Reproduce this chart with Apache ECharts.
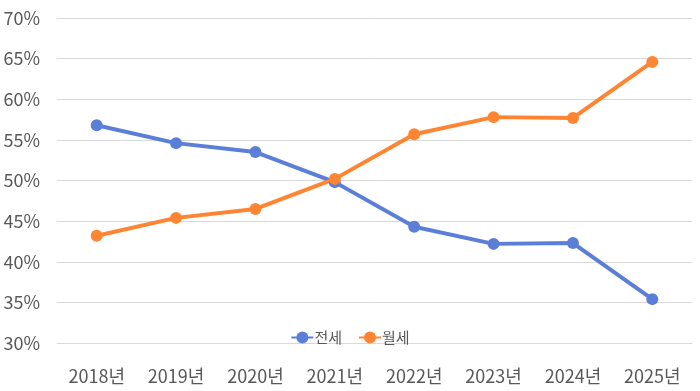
<!DOCTYPE html>
<html><head><meta charset="utf-8">
<script src="https://cdn.jsdelivr.net/npm/echarts@6/dist/echarts.min.js"></script>
<style>html,body{margin:0;padding:0;background:#fff}#c{width:700px;height:391px}</style>
</head><body><div id="c"></div>
<script>
const categories = ['2018년','2019년','2020년','2021년','2022년','2023년','2024년','2025년'];
const jeonse = [56.8, 54.6, 53.5, 49.8, 44.3, 42.2, 42.3, 35.4];
const wolse = [43.2, 45.4, 46.5, 50.2, 55.7, 57.8, 57.7, 64.6];
const seriesNames = ['전세', '월세'];
const font = '"Noto Sans CJK KR", "Noto Sans", sans-serif';
const chart = echarts.init(document.getElementById('c'));
chart.setOption({
  animation: false,
  grid: {left: 57, right: 8, top: 18, bottom: 48},
  legend: {
    data: seriesNames, top: 325, left: 'center', itemGap: 16,
    itemWidth: 22, itemHeight: 15,
    textStyle: {fontFamily: font, fontSize: 15, color: '#595959', padding: [0, 0, 0, -4]}
  },
  xAxis: {
    type: 'category', data: categories, boundaryGap: true,
    axisLine: {show: true, lineStyle: {color: '#d9d9d9'}},
    axisTick: {show: false},
    axisLabel: {fontFamily: font, fontSize: 18, color: '#595959', margin: 24}
  },
  yAxis: {
    type: 'value', min: 30, max: 70, interval: 5,
    axisLine: {show: false}, axisTick: {show: false},
    splitLine: {lineStyle: {color: '#d9d9d9'}},
    axisLabel: {fontFamily: font, fontSize: 18, color: '#595959', margin: 17, formatter: '{value}%'}
  },
  series: [
    {name: seriesNames[0], type: 'line', data: jeonse, symbol: 'circle', symbolSize: 12,
     lineStyle: {width: 4, color: '#5B7FD8'}, itemStyle: {color: '#5B7FD8'}},
    {name: seriesNames[1], type: 'line', data: wolse, symbol: 'circle', symbolSize: 12,
     lineStyle: {width: 4, color: '#FF8533'}, itemStyle: {color: '#FF8533'}}
  ]
});
</script></body></html>
